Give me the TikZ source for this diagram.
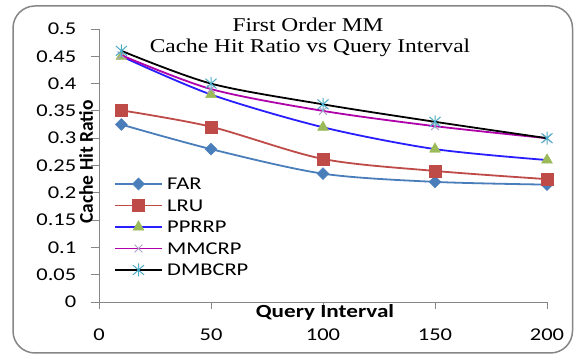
\documentclass[tikz,border=0pt]{standalone}
\usepackage{fontspec}
\usetikzlibrary{plotmarks}
\newfontfamily\calib[FakeStretch=1.25]{Carlito}
\newfontfamily\calibrot{Carlito}
\newfontfamily\titlefont[FakeStretch=1.2]{Liberation Serif}
\definecolor{axisc}{RGB}{134,134,134}
\definecolor{farc}{RGB}{74,126,187}
\definecolor{lruc}{RGB}{190,75,72}
\definecolor{pprrpc}{RGB}{40,30,255}
\definecolor{pprrpm}{RGB}{155,187,89}
\definecolor{mmcrpc}{RGB}{175,0,170}
\definecolor{mmcrpm}{RGB}{178,161,199}
\definecolor{dmbcrpm}{RGB}{75,172,198}
\pgfdeclareplotmark{ediamond}{%
 \pgfpathmoveto{\pgfqpoint{0pt}{\pgfplotmarksize}}%
 \pgfpathlineto{\pgfqpoint{\pgfplotmarksize}{0pt}}%
 \pgfpathlineto{\pgfqpoint{0pt}{-\pgfplotmarksize}}%
 \pgfpathlineto{\pgfqpoint{-\pgfplotmarksize}{0pt}}%
 \pgfpathclose\pgfusepathqfillstroke}
\pgfdeclareplotmark{xstar}{%
 \pgfpathmoveto{\pgfqpoint{0pt}{\pgfplotmarksize}}%
 \pgfpathlineto{\pgfqpoint{0pt}{-\pgfplotmarksize}}%
 \pgfpathmoveto{\pgfqpoint{.85\pgfplotmarksize}{.75\pgfplotmarksize}}%
 \pgfpathlineto{\pgfqpoint{-.85\pgfplotmarksize}{-.75\pgfplotmarksize}}%
 \pgfpathmoveto{\pgfqpoint{-.85\pgfplotmarksize}{.75\pgfplotmarksize}}%
 \pgfpathlineto{\pgfqpoint{.85\pgfplotmarksize}{-.75\pgfplotmarksize}}%
 \pgfusepathqstroke}
\tikzset{
  ticklab/.style={inner sep=0pt, font=\calib\fontsize{18}{20}\selectfont},
  farline/.style={farc, line width=1.8pt, mark=ediamond, mark size=6pt,
     mark options={solid, line width=0.4pt, draw=farc, fill=farc}},
  lruline/.style={lruc, line width=1.8pt, mark=square*, mark size=6pt,
     mark options={solid, line width=0.4pt, draw=lruc, fill=lruc}},
  pprrpline/.style={pprrpc, line width=1.8pt, mark=triangle*, mark size=6.3pt,
     mark options={solid, line width=0.4pt, draw=pprrpm, fill=pprrpm}},
  mmcrpline/.style={mmcrpc, line width=1.8pt, mark=x, mark size=5.5pt,
     mark options={solid, line width=1pt, draw=mmcrpm}},
  dmbcrpline/.style={black, line width=1.8pt, mark=xstar, mark size=6.5pt,
     mark options={solid, line width=1pt, draw=dmbcrpm}},
}
\begin{document}
\begin{tikzpicture}[x=1pt,y=1pt]
\useasboundingbox (0,0) rectangle (574,356);
\fill[white] (0,0) rectangle (574,356);
\draw[axisc, line width=1.5pt, rounded corners=22pt] (13,3) rectangle (572.5,350);
% title
\node[anchor=base, inner sep=0pt, font=\titlefont\fontsize{19.5}{22}\selectfont] (t1) at (308,324) {First Order MM};
\node[anchor=base, inner sep=0pt, font=\titlefont\fontsize{19.5}{22}\selectfont] (t2) at (310,303) {Cache Hit Ratio vs Query Interval};
\begin{scope}[shift={(99,54)}, x=2.24pt, y=546pt]
  \draw[axisc, line width=0.9pt] (0,0) -- (0,0.5);
  \draw[axisc, line width=0.9pt] (0,0) -- (200,0);
  \foreach \v/\t [count=\i] in {0/0,0.05/0.05,0.1/0.1,0.15/0.15,0.2/0.2,0.25/0.25,0.3/0.3,0.35/0.35,0.4/0.4,0.45/0.45,0.5/0.5}{
    \draw[axisc, line width=0.9pt] (0,\v) -- ++(-8pt,0);
    \node[ticklab, anchor=base east, xshift=-22.5pt, yshift=-5.8pt] (ytl\i) at (0,\v) {\t};
  }
  \foreach \v [count=\i] in {0,50,100,150,200}{
    \draw[axisc, line width=0.9pt] (\v,0) -- ++(0,-7pt);
    \node[ticklab, anchor=base, yshift=-39pt] (xtl\i) at (\v,0) {\v};
  }
  \draw[farline] plot[smooth, tension=0.5] coordinates {(10,0.325) (50,0.28) (100,0.235) (150,0.22) (200,0.215)};
  \draw[lruline] plot[smooth, tension=0.5] coordinates {(10,0.351) (50,0.321) (100,0.262) (150,0.24) (200,0.225)};
  \draw[pprrpline] plot[smooth, tension=0.5] coordinates {(10,0.45) (50,0.38) (100,0.32) (150,0.28) (200,0.26)};
  \draw[mmcrpline] plot[smooth, tension=0.5] coordinates {(10,0.452) (50,0.39) (100,0.35) (150,0.322) (200,0.30)};
  \draw[dmbcrpline] plot[smooth, tension=0.5] coordinates {(10,0.46) (50,0.40) (100,0.362) (150,0.33) (200,0.30)};
\end{scope}
% axis titles
\node[anchor=base, inner sep=0pt, font=\calib\bfseries\fontsize{18.5}{20}\selectfont] (xlab) at (325,38) {Query Interval};
\node[rotate=90, inner sep=0pt, font=\calibrot\bfseries\fontsize{19.5}{20}\selectfont] (ylab) at (86,194) {Cache Hit Ratio};
% legend
\foreach \y/\nm/\st [count=\i] in {172/FAR/farline,150.5/LRU/lruline,129/PPRRP/pprrpline,107.5/MMCRP/mmcrpline,86/DMBCRP/dmbcrpline}{
  \draw[\st] (115,\y) -- (162,\y);
  \draw[\st] plot[only marks] coordinates {(138.5,\y)};
  \node[ticklab, anchor=base west, yshift=-6pt] (leg\i) at (167,\y) {\nm};
}
\end{tikzpicture}
\end{document}
